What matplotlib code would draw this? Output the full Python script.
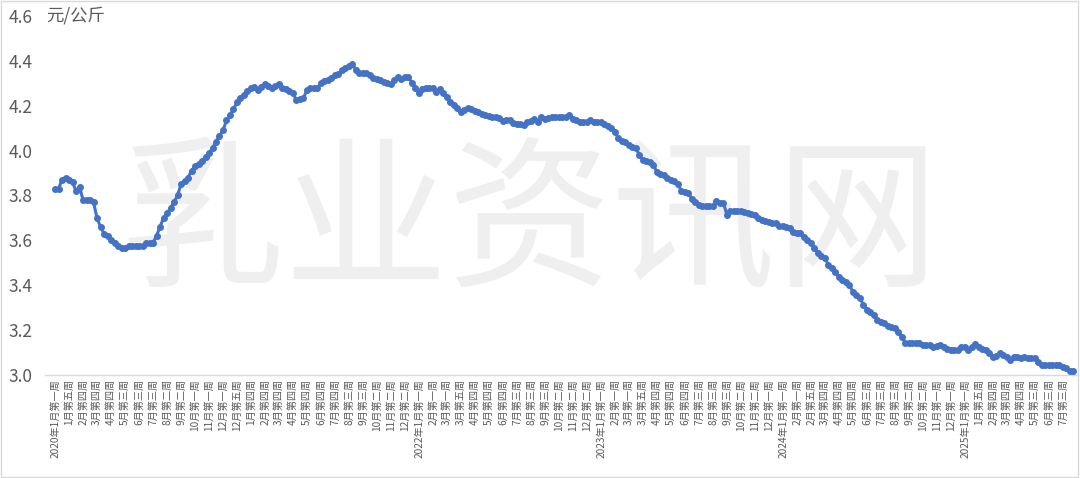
import matplotlib
matplotlib.use('Agg')
import matplotlib.pyplot as plt
from matplotlib.patches import Rectangle

# ===================== 全局设置 =====================
plt.rcParams['font.family'] = ['Noto Sans CJK SC', 'DejaVu Sans']
plt.rcParams['axes.unicode_minus'] = False

# ===================== 数据 =====================
# 每周价格（元/公斤），2020年1月第一周起
prices = [
    3.83, 3.83, 3.87, 3.88, 3.87, 3.86, 3.82, 3.84, 3.78, 3.78,
    3.78, 3.77, 3.70, 3.66, 3.63, 3.62, 3.60, 3.59, 3.575, 3.565,
    3.565, 3.575, 3.575, 3.575, 3.575, 3.575, 3.59, 3.59, 3.59, 3.62,
    3.66, 3.70, 3.72, 3.745, 3.77, 3.80, 3.85, 3.865, 3.88, 3.91,
    3.93, 3.94, 3.955, 3.97, 3.99, 4.01, 4.04, 4.065, 4.09, 4.135,
    4.16, 4.185, 4.215, 4.235, 4.25, 4.265, 4.28, 4.285, 4.27, 4.285,
    4.295, 4.29, 4.28, 4.29, 4.295, 4.28, 4.275, 4.265, 4.255, 4.225,
    4.23, 4.235, 4.27, 4.28, 4.28, 4.28, 4.30, 4.31, 4.315, 4.325,
    4.335, 4.34, 4.36, 4.37, 4.375, 4.385, 4.36, 4.345, 4.345, 4.345,
    4.335, 4.325, 4.32, 4.315, 4.305, 4.30, 4.295, 4.315, 4.33, 4.32,
    4.33, 4.33, 4.30, 4.28, 4.255, 4.275, 4.278, 4.278, 4.278, 4.26,
    4.275, 4.255, 4.24, 4.215, 4.205, 4.19, 4.17, 4.18, 4.19, 4.185,
    4.175, 4.17, 4.165, 4.158, 4.155, 4.15, 4.148, 4.145, 4.13, 4.135,
    4.135, 4.123, 4.12, 4.12, 4.114, 4.127, 4.13, 4.14, 4.127, 4.15,
    4.14, 4.145, 4.15, 4.15, 4.15, 4.148, 4.148, 4.158, 4.14, 4.136,
    4.127, 4.127, 4.127, 4.136, 4.127, 4.127, 4.127, 4.118, 4.11, 4.10,
    4.082, 4.056, 4.045, 4.038, 4.025, 4.018, 4.01, 3.98, 3.958, 3.952,
    3.95, 3.935, 3.905, 3.895, 3.89, 3.88, 3.87, 3.864, 3.85, 3.82,
    3.815, 3.81, 3.784, 3.77, 3.757, 3.753, 3.753, 3.753, 3.755, 3.775,
    3.766, 3.766, 3.713, 3.73, 3.73, 3.73, 3.73, 3.728, 3.72, 3.716,
    3.713, 3.70, 3.692, 3.686, 3.68, 3.678, 3.677, 3.664, 3.664, 3.66,
    3.655, 3.637, 3.634, 3.632, 3.615, 3.60, 3.588, 3.566, 3.543, 3.53,
    3.52, 3.49, 3.475, 3.46, 3.437, 3.425, 3.414, 3.40, 3.37, 3.355,
    3.343, 3.312, 3.29, 3.28, 3.267, 3.245, 3.238, 3.23, 3.218, 3.214,
    3.21, 3.19, 3.17, 3.143, 3.143, 3.143, 3.143, 3.143, 3.134, 3.134,
    3.134, 3.125, 3.13, 3.134, 3.125, 3.118, 3.11, 3.11, 3.11, 3.125,
    3.125, 3.11, 3.125, 3.138, 3.125, 3.118, 3.11, 3.098, 3.08, 3.085,
    3.098, 3.09, 3.08, 3.067, 3.08, 3.078, 3.076, 3.08, 3.076, 3.076,
    3.076, 3.058, 3.045, 3.045, 3.045, 3.045, 3.045, 3.045, 3.036, 3.031,
    3.018, 3.02,
]

# 横轴标签（每隔4周显示一个）
week_labels = [
    '2020年1月第一周', '1月第五周', '2月第四周', '3月第四周', '4月第四周', '5月第三周',
    '6月第三周', '7月第三周', '8月第二周', '9月第二周', '10月第一周', '11月第一周',
    '12月第一周', '12月第五周',
    '1月第四周', '2月第四周', '3月第四周', '4月第四周', '5月第四周', '6月第四周',
    '7月第四周', '8月第三周', '9月第三周', '10月第二周', '11月第二周', '12月第二周',
    '2022年1月第一周', '2月第一周', '3月第一周', '3月第五周', '4月第四周', '5月第四周',
    '6月第四周', '7月第三周', '8月第三周', '9月第三周', '10月第二周', '11月第二周',
    '12月第二周',
    '2023年1月第一周', '2月第一周', '3月第一周', '3月第五周', '4月第四周', '5月第四周',
    '6月第四周', '7月第三周', '8月第三周', '9月第三周', '10月第二周', '11月第二周',
    '12月第一周',
    '2024年1月第一周', '2月第一周', '2月第五周', '3月第四周', '4月第四周', '5月第四周',
    '6月第三周', '7月第三周', '8月第三周', '9月第二周', '10月第二周', '11月第一周',
    '12月第一周',
    '2025年1月第一周', '1月第五周', '2月第四周', '3月第四周', '4月第四周', '5月第三周',
    '6月第三周', '7月第三周',
]
label_step = 4

y_ticks = [3.0, 3.2, 3.4, 3.6, 3.8, 4.0, 4.2, 4.4, 4.6]
unit = '元/公斤'
watermark = '乳业资讯网'

LINE_COLOR = '#4472C4'
TEXT_COLOR = '#595959'

# ===================== 绘图 =====================
fig = plt.figure(figsize=(10.8, 4.78), dpi=100)
ax = fig.add_axes([45 / 1080, 1 - 375 / 478, (1078 - 45) / 1080, (375 - 16) / 478])
ax.set_zorder(2)
ax.set_facecolor('none')

# 水印（放在坐标轴下层）
fig.text(530 / 1080, 1 - 228 / 478, watermark, fontsize=118, color='#EFEFEF',
         ha='center', va='center', zorder=1)

x = list(range(len(prices)))
ax.plot(x, prices, color=LINE_COLOR, lw=2.2, marker='o', ms=4, zorder=3)

ax.set_xlim(-2.86, 292.3)
ax.set_ylim(3.0, 4.6)

# 纵轴
ax.set_yticks(y_ticks)
ax.set_yticklabels([f'{v:.1f}' for v in y_ticks])
ax.tick_params(axis='y', length=0, pad=26.5, labelsize=12.5, labelcolor=TEXT_COLOR)
for lbl in ax.get_yticklabels():
    lbl.set_horizontalalignment('left')
fig.text(46 / 1080, 1 - 16 / 478, unit, fontsize=12.5, color=TEXT_COLOR,
         ha='left', va='center')

# 横轴
tick_pos = list(range(0, len(week_labels) * label_step, label_step))
ax.set_xticks(tick_pos)
ax.set_xticklabels(week_labels, rotation=90, fontsize=7.3, color=TEXT_COLOR, va='top')
ax.tick_params(axis='x', length=0, pad=3)

for side in ['top', 'right', 'left']:
    ax.spines[side].set_visible(False)
ax.spines['bottom'].set_color('#D9D9D9')
ax.spines['bottom'].set_linewidth(1)

# 图表外框
fig.patches.append(Rectangle((0.001, 0.002), 0.997, 0.995, transform=fig.transFigure,
                             fill=False, edgecolor='#D9D9D9', lw=1))

fig.savefig('out.png', dpi=100)
